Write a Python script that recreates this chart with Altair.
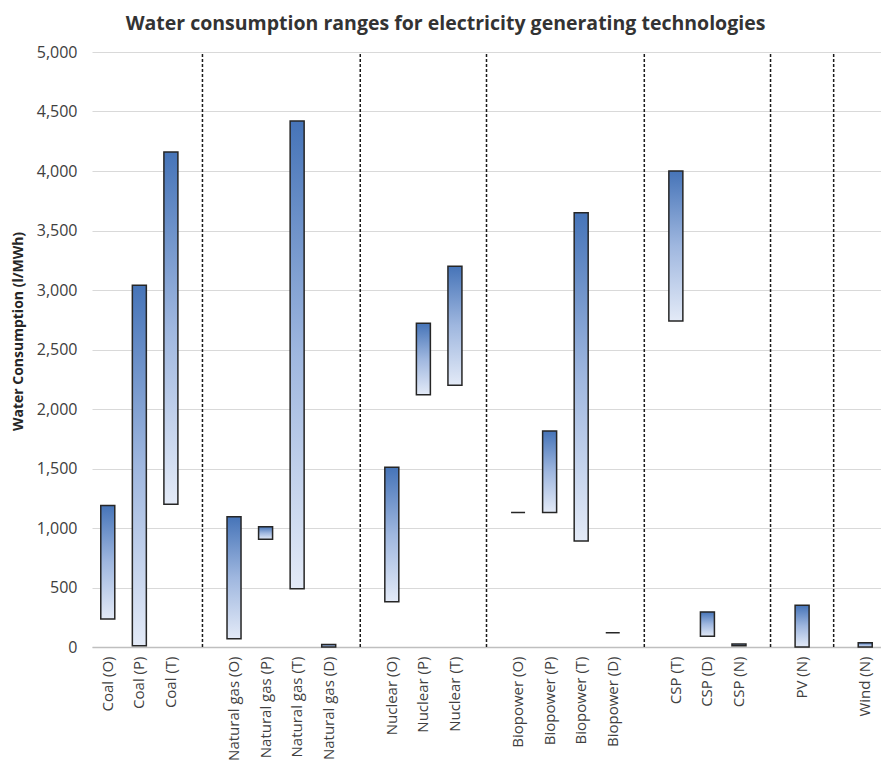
import altair as alt
import pandas as pd

technologies = [
    "Coal (O)", "Coal (P)", "Coal (T)",
    "Natural gas (O)", "Natural gas (P)", "Natural gas (T)", "Natural gas (D)",
    "Nuclear (O)", "Nuclear (P)", "Nuclear (T)",
    "Biopower (O)", "Biopower (P)", "Biopower (T)", "Biopower (D)",
    "CSP (T)", "CSP (D)", "CSP (N)",
    "PV (N)",
    "Wind (N)",
]
low_values = [235, 10, 1200, 70, 905, 490, 0, 380, 2120, 2200,
              1130, 1130, 890, 120, 2740, 90, 10, 0, 0]
high_values = [1190, 3040, 4160, 1095, 1010, 4420, 20, 1510, 2720, 3200,
               1130, 1815, 3650, 120, 4000, 295, 25, 350, 35]
group_sizes = [3, 4, 3, 4, 3, 1, 1]
y_ticks = [0, 500, 1000, 1500, 2000, 2500, 3000, 3500, 4000, 4500, 5000]

# build the x domain with one blank slot between groups
domain = []
separators = []
i = 0
for g, n in enumerate(group_sizes):
    domain.extend(technologies[i:i + n])
    i += n
    if g < len(group_sizes) - 1:
        sep = " " * (g + 1)
        domain.append(sep)
        separators.append(sep)

bars_df = pd.DataFrame({"tech": technologies, "low": low_values, "high": high_values})
sep_df = pd.DataFrame({"tech": separators, "y0": [0] * len(separators), "y1": [5000] * len(separators)})

FONT = "Open Sans"

x_enc = alt.X("tech:N", sort=domain, scale=alt.Scale(domain=domain, paddingInner=0, paddingOuter=0),
              axis=alt.Axis(title=None, labelAngle=-90, labelFontSize=15, labelColor="#404040",
                            labelFont=FONT, labelPadding=9, ticks=False, domain=True,
                            domainColor="#bfbfbf", domainWidth=1.5, grid=False))

gradient = alt.Gradient(
    gradient="linear",
    stops=[alt.GradientStop(color="#4674b8", offset=0),
           alt.GradientStop(color="#9fb7df", offset=0.5),
           alt.GradientStop(color="#e3eaf7", offset=1)],
    x1=0, x2=0, y1=0, y2=1,
)

bars = alt.Chart(bars_df).mark_bar(
    color=gradient, stroke="#262626", strokeWidth=1.5, size=14
).encode(
    x=x_enc,
    y=alt.Y("high:Q", scale=alt.Scale(domain=[0, 5000], nice=False),
            axis=alt.Axis(title="Water Consumption (l/MWh)", values=y_ticks, format=",.0f",
                          labelFontSize=16, labelColor="#404040", labelFont=FONT,
                          labelPadding=15, ticks=False, tickSize=0, domain=False,
                          gridColor="#d9d9d9", gridWidth=1.2,
                          titleFont=FONT, titleFontSize=14, titleFontWeight="bold",
                          titleColor="#262626", titleX=-70, titleY=279,
                          titleBaseline="alphabetic", titleAngle=270)),
    y2="low:Q",
)

dividers = alt.Chart(sep_df).mark_rule(
    color="#1a1a1a", strokeWidth=1.5, strokeDash=[3, 2]
).encode(
    x=alt.X("tech:N", sort=domain),
    y="y0:Q",
    y2="y1:Q",
)

chart = alt.layer(dividers, bars).properties(
    width=789,
    height=595,
    title=alt.TitleParams(
        "Water consumption  ranges for electricity generating technologies",
        font=FONT, fontSize=19.5, fontWeight="bold", color="#333333", offset=10, dx=-41,
    ),
    autosize=alt.AutoSizeParams(type="none"),
    padding={"left": 84, "top": 44, "right": 0, "bottom": 117},
).configure_view(stroke=None)

chart.save("out.html", embed_options={"renderer": "svg", "actions": False})
